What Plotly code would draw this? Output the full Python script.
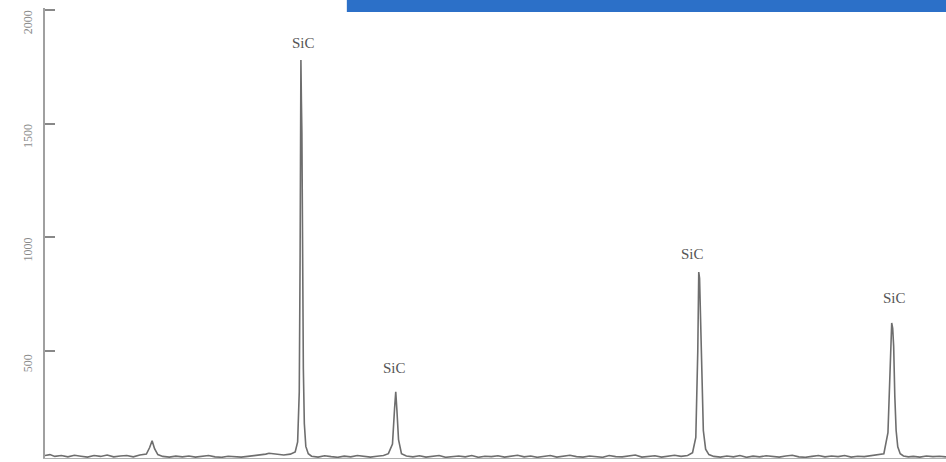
import plotly.graph_objects as go

two_theta = [
    20.0, 20.3, 20.6, 21.0, 21.4, 21.8, 22.2, 22.6, 23.0, 23.4, 23.8, 24.2, 24.6, 25.0, 25.4, 25.8,
    26.2, 26.4, 26.55, 26.7, 26.9, 27.2, 27.6, 28.0, 28.4, 28.8, 29.2, 29.6, 30.0, 30.4, 30.8, 31.2,
    31.6, 32.0, 32.4, 32.8, 33.2, 33.5, 33.7, 33.9, 34.2, 34.6, 35.0, 35.3, 35.45, 35.55, 35.6, 35.63,
    35.65, 35.68, 35.71, 35.75, 35.8, 35.86, 35.95, 36.1, 36.3, 36.7, 37.1, 37.5, 37.9, 38.3, 38.7,
    39.1, 39.5, 39.9, 40.3, 40.7, 41.0, 41.25, 41.38, 41.45, 41.52, 41.62, 41.8, 42.1, 42.5, 42.9,
    43.3, 43.7, 44.1, 44.5, 44.9, 45.3, 45.7, 46.1, 46.5, 46.9, 47.3, 47.7, 48.1, 48.5, 48.9, 49.3,
    49.7, 50.1, 50.5, 50.9, 51.3, 51.7, 52.1, 52.5, 52.9, 53.3, 53.7, 54.1, 54.5, 54.9, 55.3, 55.7,
    56.1, 56.5, 56.9, 57.3, 57.7, 58.1, 58.5, 58.9, 59.3, 59.6, 59.8, 59.92, 59.98, 60.03, 60.08,
    60.12, 60.18, 60.26, 60.4, 60.6, 60.9, 61.3, 61.7, 62.1, 62.5, 62.9, 63.3, 63.7, 64.1, 64.5,
    64.9, 65.3, 65.7, 66.1, 66.5, 66.9, 67.3, 67.7, 68.1, 68.5, 68.9, 69.3, 69.7, 70.1, 70.5, 70.9,
    71.3, 71.55, 71.7, 71.78, 71.84, 71.9, 71.97, 72.05, 72.15, 72.3, 72.5, 72.8, 73.1, 73.5, 73.9,
    74.3, 74.7, 75.1,
]
intensity = [
    40, 44, 36, 40, 34, 41, 37, 33, 40, 36, 42, 34, 38, 40, 34, 42,
    46, 75, 105, 70, 44, 36, 33, 37, 34, 38, 33, 36, 40, 34, 32, 37,
    35, 33, 36, 39, 41, 46, 50, 48, 44, 42, 46, 56, 100, 320, 900, 1500,
    1780, 1600, 1460, 900, 420, 180, 80, 48, 37, 33, 39, 35, 32, 37, 34,
    40, 36, 33, 37, 40, 48, 90, 250, 320, 240, 110, 48, 38, 34, 39,
    33, 36, 40, 32, 35, 38, 34, 40, 32, 37, 35, 39, 33, 36, 41, 34,
    38, 32, 35, 40, 33, 37, 41, 35, 33, 38, 36, 32, 40, 35, 34, 38,
    42, 33, 36, 39, 33, 37, 41, 36, 40, 52, 120, 500, 847, 820, 640,
    560, 330, 150, 68, 44, 36, 33, 38, 34, 40, 32, 37, 34, 39, 35,
    33, 38, 41, 34, 32, 36, 40, 34, 38, 35, 40, 33, 37, 35, 39, 42,
    48, 140, 480, 623, 600, 520, 300, 150, 78, 48, 38, 34, 36, 33, 38,
    35, 37, 34,
]

# peak labels
label_x = [35.65, 41.45, 60.03, 71.84]
label_y = [1780, 320, 847, 623]
label_text = ["SiC", "SiC", "SiC", "SiC"]
label_dx = [3, -1, -7, 2]
label_dy = [7, 14, 8, 15]

y_ticks = [500, 1000, 1500, 2000]
y_tick_text = ["500", "1000", "1500", "2000"]

fig = go.Figure()
fig.add_trace(go.Scatter(
    x=two_theta, y=intensity, mode="lines",
    line=dict(color="#6e6e6e", width=1.6), hoverinfo="skip", showlegend=False,
))

for x, y, t, dx, dy in zip(label_x, label_y, label_text, label_dx, label_dy):
    fig.add_annotation(
        x=x, y=y, text=t, showarrow=False, xanchor="center", yanchor="bottom",
        xshift=dx, yshift=dy,
        font=dict(family="Liberation Serif, serif", size=15, color="#555555"),
    )

# blue strip from the scanned page
fig.add_shape(type="rect", xref="paper", yref="paper",
              x0=0.335, x1=1.0, y0=0.9912, y1=1.03,
              fillcolor="rgb(44,112,200)", line=dict(width=0), layer="above")

fig.update_layout(
    width=946, height=462,
    margin=dict(l=45, r=0, t=8, b=4, autoexpand=False),
    paper_bgcolor="white", plot_bgcolor="white",
    xaxis=dict(range=[20, 75.1], showgrid=False, zeroline=False, showticklabels=False,
               ticks="", showline=True, linecolor="#b0b0b0", linewidth=1, automargin=False),
    yaxis=dict(range=[29, 2009], showgrid=False, zeroline=False, automargin=False,
               tickvals=y_ticks, ticktext=y_tick_text, tickangle=-90,
               ticks="inside", ticklen=10, tickcolor="#888888", tickwidth=2,
               showline=True, linecolor="#a0a0a0", linewidth=2,
               tickfont=dict(family="Liberation Serif, serif", size=12, color="#8a8a8a"),
               ticklabelstandoff=6, ticklabelshift=14, ticklabeloverflow="allow"),
)

fig.write_html("out.html")
